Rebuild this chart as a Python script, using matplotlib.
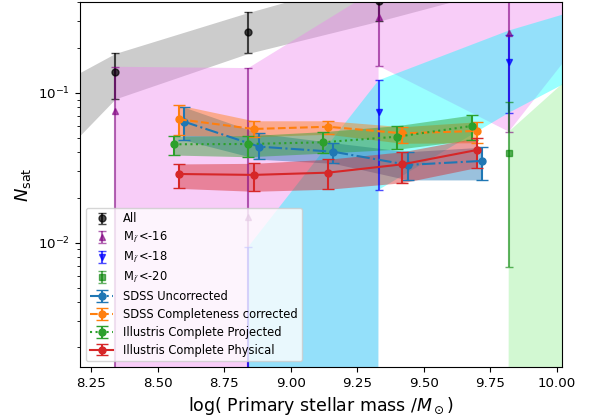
import numpy as np
import matplotlib
matplotlib.use('Agg')
import matplotlib.pyplot as plt

nan = np.nan

# satellite counts per magnitude cut (points + shaded ranges)
samp_x = [8.34, 8.84, 9.33, 9.82]
all_y = [0.138, 0.256, 0.41, nan]
all_lo = [0.091, 0.183, 0.30, nan]
all_hi = [0.183, 0.343, 0.55, nan]
all_band_x = [7.85, 8.34, 8.84, 9.33, 9.82]
all_band_lo = [0.0115, 0.091, 0.183, 0.30, 0.51]
all_band_hi = [0.062, 0.183, 0.343, 0.6, 0.9]

m16_y = [0.0755, 0.0149, 0.318, 0.25]
m16_lo = [0.0, 0.0, 0.151, 0.055]
m16_hi = [0.149, 0.146, 0.6, 0.6]
m16_band_x = [8.34, 8.84, 9.33, 9.82, 10.31]
m16_band_lo = [0.0, 0.0, 0.151, 0.055, 0.7]
m16_band_hi = [0.149, 0.146, 0.5, 1.0, 1.5]

m18_x = [8.84, 9.33, 9.82]
m18_y = [0.0, 0.0743, 0.16]
m18_lo = [0.0, 0.0225, 0.0735]
m18_hi = [0.0094, 0.121, 0.243]
m18_band_x = [8.84, 9.33, 9.82, 10.31]
m18_band_lo = [0.0, 0.0225, 0.0735, 0.21]
m18_band_hi = [0.0094, 0.121, 0.26, 0.47]

m20_x = [9.82]
m20_y = [0.0395]
m20_lo = [0.0069]
m20_hi = [0.0865]
m20_band_x = [9.33, 9.82, 10.31]
m20_band_lo = [0.0, 0.0, 0.0]
m20_band_hi = [0.0, 0.055, 0.33]

# SDSS / Illustris curves
unc_x = [8.60, 8.88, 9.16, 9.44, 9.72]
unc_y = [0.064, 0.0437, 0.0404, 0.033, 0.0351]
unc_lo = [0.0483, 0.036, 0.0338, 0.0262, 0.0262]
unc_hi = [0.0799, 0.0536, 0.0464, 0.0404, 0.0433]

cor_x = [8.58, 8.86, 9.14, 9.42, 9.70]
cor_y = [0.0665, 0.0573, 0.0593, 0.0536, 0.0556]
cor_lo = [0.052, 0.0509, 0.0528, 0.046, 0.0464]
cor_hi = [0.0828, 0.065, 0.065, 0.0593, 0.064]

proj_x = [8.56, 8.84, 9.12, 9.40, 9.68]
proj_y = [0.0453, 0.0455, 0.0467, 0.0509, 0.060]
proj_lo = [0.0384, 0.0374, 0.0395, 0.042, 0.0484]
proj_hi = [0.0514, 0.0517, 0.055, 0.0603, 0.071]

phys_x = [8.58, 8.86, 9.14, 9.42, 9.70]
phys_y = [0.0287, 0.0283, 0.0293, 0.0333, 0.0415]
phys_lo = [0.023, 0.022, 0.0227, 0.0251, 0.0317]
phys_hi = [0.0335, 0.0338, 0.036, 0.0404, 0.05]


def yerr(y, lo, hi):
	y = np.array(y)
	return [y - np.array(lo), np.array(hi) - y]


fig = plt.figure(figsize=(5.91, 4.18), dpi=100)
ax = fig.add_axes([80/591, 1-367/418, (562-80)/591, (367-2)/418])
ax.set_yscale('log')

ax.fill_between(all_band_x, all_band_lo, all_band_hi, color='gray', alpha=0.4, lw=0)
ax.fill_between(m16_band_x, m16_band_lo, m16_band_hi, color='violet', alpha=0.4, lw=0)
ax.fill_between(m18_band_x, m18_band_lo, m18_band_hi, color='cyan', alpha=0.4, lw=0)
ax.fill_between(m20_band_x, m20_band_lo, m20_band_hi, color='lightgreen', alpha=0.4, lw=0)

ax.errorbar(samp_x, all_y, yerr=yerr(all_y, all_lo, all_hi), fmt='o', color='k',
	ms=5, capsize=3, alpha=0.7, label='All')
ax.errorbar(samp_x, m16_y, yerr=yerr(m16_y, m16_lo, m16_hi), fmt='^', color='purple',
	ms=5, capsize=3, alpha=0.6, label="M$_{i'}$<-16")
ax.errorbar(m18_x, m18_y, yerr=yerr(m18_y, m18_lo, m18_hi), fmt='v', color='blue',
	ms=5, capsize=3, alpha=0.7, label="M$_{i'}$<-18")
ax.errorbar(m20_x, m20_y, yerr=yerr(m20_y, m20_lo, m20_hi), fmt='s', color='green',
	ms=5, capsize=3, alpha=0.6, label="M$_{i'}$<-20")

curves = [
	(unc_x, unc_y, unc_lo, unc_hi, 'tab:blue', '-.', 'SDSS Uncorrected'),
	(cor_x, cor_y, cor_lo, cor_hi, 'tab:orange', '--', 'SDSS Completeness corrected'),
	(proj_x, proj_y, proj_lo, proj_hi, 'tab:green', ':', 'Illustris Complete Projected'),
	(phys_x, phys_y, phys_lo, phys_hi, 'tab:red', '-', 'Illustris Complete Physical'),
]
for cx, cy, clo, chi, col, ls, lab in curves:
	ax.fill_between(cx, clo, chi, color=col, alpha=0.45, lw=0)
	ax.errorbar(cx, cy, yerr=yerr(cy, clo, chi), fmt='o', ls=ls, color=col,
		ms=5, capsize=4, label=lab)

ax.set_xlim(8.207, 10.02)
ax.set_ylim(0.00148, 0.403)
ax.tick_params(labelsize=9.6)
ax.set_xlabel(r'log( Primary stellar mass /$M_\odot$)', fontsize=12.5)
ax.set_ylabel(r'$N_{\rm sat}$', fontsize=13)
ax.legend(loc='lower left', fontsize=8.3, labelspacing=0.42)

fig.savefig('out.png', dpi=100)
